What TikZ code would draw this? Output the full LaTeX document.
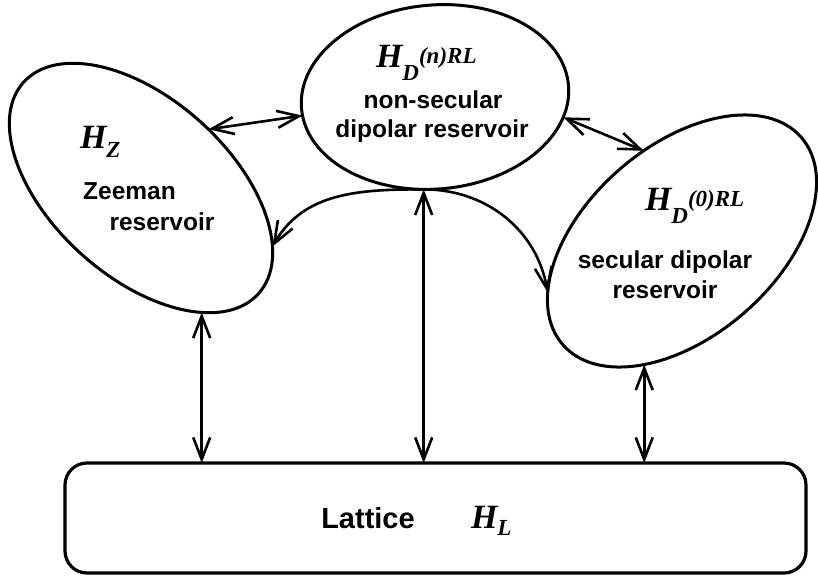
\documentclass[tikz,border=0pt]{standalone}
\usepackage{fontspec}
\setsansfont{Liberation Sans}
\newfontfamily\hamfont{Liberation Serif}
\usetikzlibrary{shapes.geometric,arrows.meta}

\newcommand{\Ham}[1]{{\hamfont\bfseries\itshape\fontsize{34}{34}\selectfont #1}}
\newcommand{\Idx}[2]{\raisebox{#1}{\fontsize{23}{23}\selectfont #2}}

\begin{document}
\begin{tikzpicture}[x={(1pt,0pt)},y={(0pt,-1pt)},
  every node/.style={inner sep=0pt, outer sep=0pt},
  reservoir/.style={draw, ellipse, line width=3pt},
  txt/.style={font=\sffamily\bfseries\fontsize{24.5}{29}\selectfont, anchor=base},
  twoway/.style={line width=2.6pt, {Straight Barb[length=22pt,width=17pt]}-{Straight Barb[length=22pt,width=17pt]}},
  oneway/.style={line width=2.6pt, -{Straight Barb[length=22pt,width=17pt]}}]
\useasboundingbox (0,0) rectangle (818,578);

% reservoirs
\node[reservoir, rotate=-42, minimum width=316pt, minimum height=178pt] (zee) at (141,188) {};
\node[reservoir, rotate=5, minimum width=268pt, minimum height=184pt] (top) at (435,97) {};
\node[reservoir, rotate=41, minimum width=316pt, minimum height=190pt] (sec) at (682,241) {};
\node[draw, line width=3.2pt, rounded corners=22pt, minimum width=741pt, minimum height=110pt] (lat) at (435.5,518) {};

% labels
\node[anchor=base west] (hz) at (80,148) {\Ham{H\Idx{-9pt}{Z}}};
\node[txt] (zee1) at (129.5,199) {Zeeman};
\node[txt] (zee2) at (162,230) {reservoir};

\node[anchor=base west] (hdn) at (376,67) {\Ham{H\Idx{-13pt}{D\raisebox{17pt}{(n)RL}}}};
\node[txt] (top1) at (433,108) {non-secular};
\node[txt] (top2) at (432,137) {dipolar reservoir};

\node[anchor=base west] (hd0) at (645,210) {\Ham{H\Idx{-13pt}{D\raisebox{17pt}{(0)RL}}}};
\node[txt] (sec1) at (665,268) {secular dipolar};
\node[txt] (sec2) at (665,298) {reservoir};

\node[txt, font=\sffamily\bfseries\fontsize{29}{34}\selectfont] (lat1) at (368,528) {Lattice};
\node[anchor=base west] (hl) at (471,528) {\Ham{H\Idx{-7pt}{L}}};

% exchanges
\draw[twoway] (zee.83) -- (top.183);
\draw[twoway] (top.-14) -- (sec.72);
\draw[twoway] (top.258) -- (top.258 |- lat.north);
\draw[twoway] (zee.-22) -- (zee.-22 |- lat.north);
\draw[twoway] (sec.212) -- (sec.212 |- lat.north);
\draw[oneway] (top.258) to[out=180,in=60] (zee.18);
\draw[oneway] (top.258) to[out=0,in=100] (sec.160);
\end{tikzpicture}
\end{document}
